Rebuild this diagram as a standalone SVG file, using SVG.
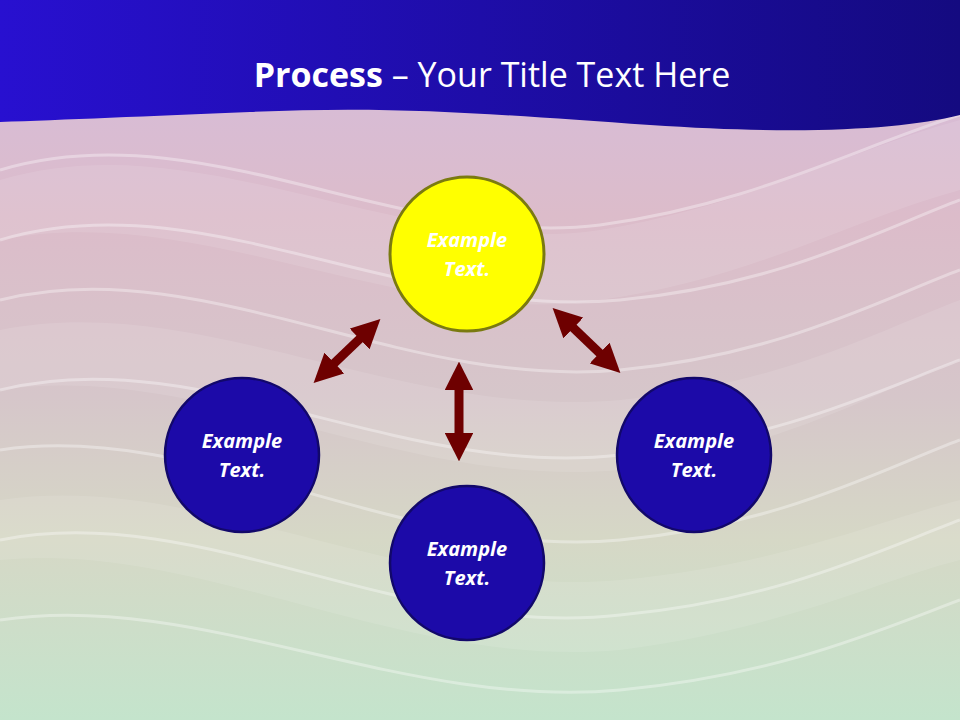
<svg xmlns="http://www.w3.org/2000/svg" width="960" height="720" viewBox="0 0 960 720">
<defs>
<linearGradient id="bg" x1="0" y1="0" x2="0" y2="1">
<stop offset="0" stop-color="#d4bce0"/>
<stop offset="0.3" stop-color="#dcbcca"/>
<stop offset="0.55" stop-color="#d6c6ca"/>
<stop offset="0.75" stop-color="#d6d8c6"/>
<stop offset="1" stop-color="#c4e4cc"/>
</linearGradient>
<linearGradient id="top" x1="0" y1="0" x2="1" y2="0">
<stop offset="0" stop-color="#2810d0"/>
<stop offset="1" stop-color="#140a80"/>
</linearGradient>
<marker id="ah" viewBox="0 0 10 10" refX="5" refY="5" markerWidth="3.2" markerHeight="3.2" orient="auto-start-reverse" markerUnits="strokeWidth">
<path d="M0,0 L10,5 L0,10 Z" fill="#6e0000"/>
</marker>
<style>
.wave{fill:none;stroke:#ffffff;stroke-opacity:0.35;stroke-width:3}
.band{fill:#ffffff;fill-opacity:0.10}
.blue{fill:#1c0aa8;stroke:#12086a;stroke-width:2.5}
.lbl{font-family:"Open Sans","Liberation Sans",sans-serif;font-size:20px;font-weight:bold;font-style:italic;fill:#ffffff;text-anchor:middle}
.arr{stroke:#6e0000;stroke-width:9;marker-start:url(#ah);marker-end:url(#ah)}
</style>
</defs>
<rect width="960" height="720" fill="url(#bg)"/>
<g id="waves">
<path class="band" d="M0,180 C200,120 400,260 600,230 C750,205 850,150 960,120 L960,190 C850,220 750,280 600,300 C400,330 200,200 0,240Z"/>
<path class="band" d="M0,330 C200,290 400,420 620,400 C780,385 880,330 960,300 L960,360 C880,390 780,450 620,470 C400,490 200,360 0,390Z"/>
<path class="band" d="M0,500 C200,470 400,600 620,580 C780,565 880,520 960,500 L960,560 C880,580 780,630 620,650 C400,670 200,540 0,560Z"/>
<path class="wave" d="M0,170 C200,110 400,250 600,225 C750,205 850,150 960,115"/>
<path class="wave" d="M0,240 C200,180 400,320 620,300 C780,285 880,230 960,200"/>
<path class="wave" d="M0,300 C200,250 400,390 620,370 C780,355 880,300 960,270"/>
<path class="wave" d="M0,390 C200,340 400,480 620,455 C780,440 880,390 960,360"/>
<path class="wave" d="M0,450 C200,420 400,560 620,540 C780,525 880,470 960,440"/>
<path class="wave" d="M0,540 C200,500 400,640 620,615 C780,600 880,550 960,520"/>
<path class="wave" d="M0,620 C200,590 400,710 620,690 C780,675 880,630 960,600"/>
</g>
<path d="M0,0 H960 V115 C900,130 800,135 650,125 C500,115 400,105 250,112 C150,116 60,120 0,122 Z" fill="url(#top)"/>
<text x="492" y="87" font-family="Open Sans,Liberation Sans,sans-serif" font-size="34" fill="#ffffff" text-anchor="middle"><tspan font-weight="bold">Process</tspan> – Your Title Text Here</text>
<g id="connectors">
<line class="arr" x1="324" y1="373" x2="370" y2="329"/>
<line class="arr" x1="459" y1="376" x2="459" y2="447"/>
<line class="arr" x1="563" y1="318" x2="610" y2="363"/>
</g>
<g id="n-top">
<circle cx="467" cy="254" r="77" fill="#ffff00" stroke="#7a7a10" stroke-width="3"/>
<text class="lbl" x="467" y="247">Example</text><text class="lbl" x="467" y="276">Text.</text>
</g>
<g id="n-left">
<circle class="blue" cx="242" cy="455" r="77"/>
<text class="lbl" x="242" y="448">Example</text><text class="lbl" x="242" y="477">Text.</text>
</g>
<g id="n-right">
<circle class="blue" cx="694" cy="455" r="77"/>
<text class="lbl" x="694" y="448">Example</text><text class="lbl" x="694" y="477">Text.</text>
</g>
<g id="n-bottom">
<circle class="blue" cx="467" cy="563" r="77"/>
<text class="lbl" x="467" y="556">Example</text><text class="lbl" x="467" y="585">Text.</text>
</g>
</svg>
